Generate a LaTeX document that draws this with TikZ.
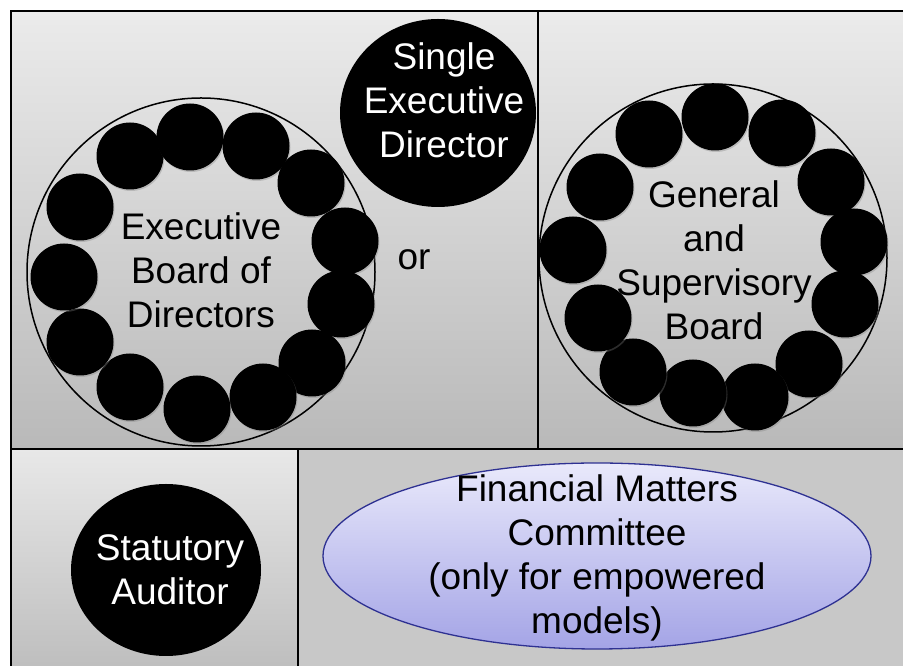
\documentclass[tikz,border=0pt]{standalone}
\usepackage{fontspec}
\setmainfont{Liberation Sans}
\usetikzlibrary{shapes.geometric,shadows}
\definecolor{boxtop}{HTML}{EBEBEB}
\definecolor{boxbot}{HTML}{B9B9B9}
\definecolor{bltop}{HTML}{E8E8E8}
\definecolor{blbot}{HTML}{BEBEBE}
\definecolor{brfill}{HTML}{C8C8C8}
\definecolor{fmtop}{HTML}{E9E9FB}
\definecolor{fmbot}{HTML}{A4A4E6}
\definecolor{fmline}{HTML}{2E3192}
\tikzset{
  panel/.style={draw=black, line width=2pt},
  bigring/.style={circle, draw=black, line width=1.5pt, minimum size=348pt, inner sep=0pt},
  member/.style={circle, fill=black, minimum size=67pt, inner sep=0pt,
     drop shadow={shadow xshift=1pt, shadow yshift=-1.5pt, opacity=0.35}},
  bigtext/.style={font=\fontsize{37}{44}\selectfont, align=center, inner sep=0pt},
}
\begin{document}
\begin{tikzpicture}[x=1pt,y=1pt]
\useasboundingbox (0,0) rectangle (903,666);
% panels
\path[top color=boxtop, bottom color=boxbot] (11,217) rectangle (538,655);
\path[top color=boxtop, bottom color=boxbot] (538,217) rectangle (906,655);
\path[top color=bltop, bottom color=blbot] (11,-3) rectangle (298,217);
\path[fill=brfill] (298,-3) rectangle (906,217);
\draw[panel] (11,-3) -- (11,655) -- (906,655);
\draw[panel] (11,217) -- (906,217);
\draw[panel] (538,217) -- (538,655);
\draw[panel] (298,-3) -- (298,217);
% left ring
\node[bigring] (ebring) at (201,394) {};
\foreach \n/\x/\y in {a/130/510, b/190/529, c/256/520, d/311/483, e/345/425, f/341/362, g/312/303, h/263/269, i/197/257, j/130/279, k/80/324, l/64/389, m/80/459}
  \node[member] (eb\n) at (\x,\y) {};
\node[bigtext] (ebtext) at (201,396) {Executive\\Board of\\Directors};
% single executive director
\node[ellipse, fill=black, minimum width=196pt, minimum height=188pt, inner sep=0pt] (sed) at (438,553) {};
\node[bigtext, text=white] (sedtext) at (444,566) {Single\\Executive\\Director};
\node[bigtext] (or) at (414,406) {or};
% right ring
\node[bigring] (gsring) at (713,408) {};
\foreach \n/\x/\y in {a/715/549, b/782/533, c/831/484, d/854/424, e/845/362, f/809/302, g/755/269, h/693/273, i/633/294, j/598/348, k/573/416, l/600/479, m/649/532}
  \node[member] (gs\n) at (\x,\y) {};
\node[bigtext] (gstext) at (714,406) {General\\and\\Supervisory\\Board};
% statutory auditor
\node[ellipse, fill=black, minimum width=190pt, minimum height=172pt, inner sep=0pt] (sa) at (166,96) {};
\node[bigtext, text=white] (satext) at (170,96) {Statutory\\Auditor};
% financial matters committee
\node[ellipse, draw=fmline, line width=1.3pt, top color=fmtop, bottom color=fmbot, minimum width=548pt, minimum height=186pt, inner sep=0pt] (fmc) at (597,110) {};
\node[bigtext] (fmctext) at (597,108) {Financial Matters\\Committee\\(only for empowered\\models)};
\end{tikzpicture}
\end{document}
